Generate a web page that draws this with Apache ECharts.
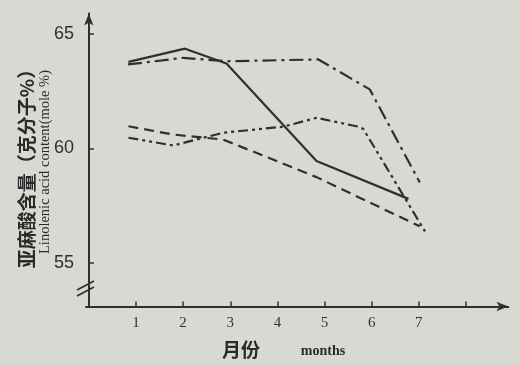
<!DOCTYPE html>
<html>
<head>
<meta charset="utf-8">
<script src="https://cdn.jsdelivr.net/npm/echarts@6/dist/echarts.min.js"></script>
<style>
  html, body { margin: 0; padding: 0; background: #d9d9d3; }
  #chart { width: 519px; height: 365px; }
</style>
</head>
<body>
<div id="chart"></div>
<script>
  // 亚麻酸含量随月份变化，四条线 (x 为图上读出的月份位置)
  var solidX = [0.84, 2.04, 2.92, 4.83, 6.78];
  var solidY = [63.78, 64.36, 63.71, 59.45, 57.80];

  var dashDotX = [0.83, 2.0, 2.92, 4.87, 5.96, 7.02];
  var dashDotY = [63.67, 63.96, 63.81, 63.89, 62.58, 58.52];

  var dashedX = [0.84, 1.79, 2.85, 4.83, 7.02];
  var dashedY = [60.97, 60.61, 60.39, 58.75, 56.60];

  var dashDotDotX = [0.84, 1.79, 2.85, 4.12, 4.83, 5.68, 5.82, 7.13];
  var dashDotDotY = [60.47, 60.13, 60.69, 60.95, 61.34, 60.97, 60.86, 56.38];

  var xTickLabels = [1, 2, 3, 4, 5, 6, 7];
  var xTicks = [1, 2, 3, 4, 5, 6, 7, 8];
  var yTickLabels = [55, 60, 65];

  function pairs(xs, ys) {
    var out = [];
    for (var i = 0; i < xs.length; i++) {
      out.push([xs[i], ys[i]]);
    }
    return out;
  }

  var ink = '#2f2f2f';

  var chart = echarts.init(document.getElementById('chart'));

  function lineSeries(name, xs, ys, dash) {
    return {
      name: name,
      type: 'line',
      data: pairs(xs, ys),
      symbol: 'none',
      lineStyle: { color: ink, width: 2.2, type: dash }
    };
  }

  var option = {
    backgroundColor: '#d9d9d3',
    animation: false,
    grid: { left: 86, top: 13.4, width: 422.4, height: 293.1 },
    xAxis: {
      type: 'value',
      min: -0.06,
      max: 8.9,
      splitLine: { show: false },
      axisLine: {
        show: true,
        symbol: ['none', 'arrow'],
        symbolSize: [7, 12],
        lineStyle: { color: ink, width: 2 }
      },
      axisTick: {
        show: true,
        inside: true,
        length: 5,
        customValues: xTicks,
        lineStyle: { color: ink, width: 1.5 }
      },
      axisLabel: {
        customValues: xTickLabels,
        margin: 9,
        color: '#333',
        fontSize: 15,
        fontFamily: 'Liberation Serif, DejaVu Serif, serif'
      }
    },
    yAxis: {
      type: 'value',
      min: 53.1,
      max: 65.9,
      splitLine: { show: false },
      axisLine: {
        show: true,
        symbol: ['none', 'arrow'],
        symbolSize: [7, 12],
        lineStyle: { color: ink, width: 2 }
      },
      axisTick: {
        show: true,
        inside: true,
        length: 5,
        customValues: yTickLabels,
        lineStyle: { color: ink, width: 1.5 }
      },
      axisLabel: {
        customValues: yTickLabels,
        margin: 12,
        color: '#2f2f2f',
        fontSize: 18,
        fontFamily: 'Liberation Sans Narrow, Liberation Sans, sans-serif'
      }
    },
    graphic: [
      // 坐标轴断裂符号 //
      { type: 'line', shape: { x1: 77, y1: 290, x2: 94, y2: 281 }, style: { stroke: ink, lineWidth: 1.8 } },
      { type: 'line', shape: { x1: 77, y1: 296, x2: 94, y2: 287 }, style: { stroke: ink, lineWidth: 1.8 } },
      {
        type: 'text', x: 27, y: 164, rotation: Math.PI / 2,
        style: {
          text: '亚麻酸含量（克分子%）', fill: '#2a2a2a',
          font: 'bold 19px "Noto Sans CJK SC"', align: 'center', verticalAlign: 'middle'
        }
      },
      {
        type: 'text', x: 45, y: 162, rotation: Math.PI / 2,
        style: {
          text: 'Linolenic acid content(mole %)', fill: '#2a2a2a',
          font: '14.5px "Liberation Serif", serif', align: 'center', verticalAlign: 'middle'
        }
      },
      {
        type: 'text', x: 241, y: 350,
        style: {
          text: '月份', fill: '#2a2a2a',
          font: 'bold 19px "Noto Sans CJK SC"', align: 'center', verticalAlign: 'middle'
        }
      },
      {
        type: 'text', x: 323, y: 351,
        style: {
          text: 'months', fill: '#2a2a2a',
          font: 'bold 14px "Liberation Serif", serif', align: 'center', verticalAlign: 'middle'
        }
      }
    ],
    series: [
      lineSeries('solid', solidX, solidY, 'solid'),
      lineSeries('dashDot', dashDotX, dashDotY, [14, 5, 3, 5]),
      lineSeries('dashed', dashedX, dashedY, [10, 6]),
      lineSeries('dashDotDot', dashDotDotX, dashDotDotY, [10, 4, 3, 4, 3, 4])
    ]
  };
  chart.setOption(option);
</script>
</body>
</html>
